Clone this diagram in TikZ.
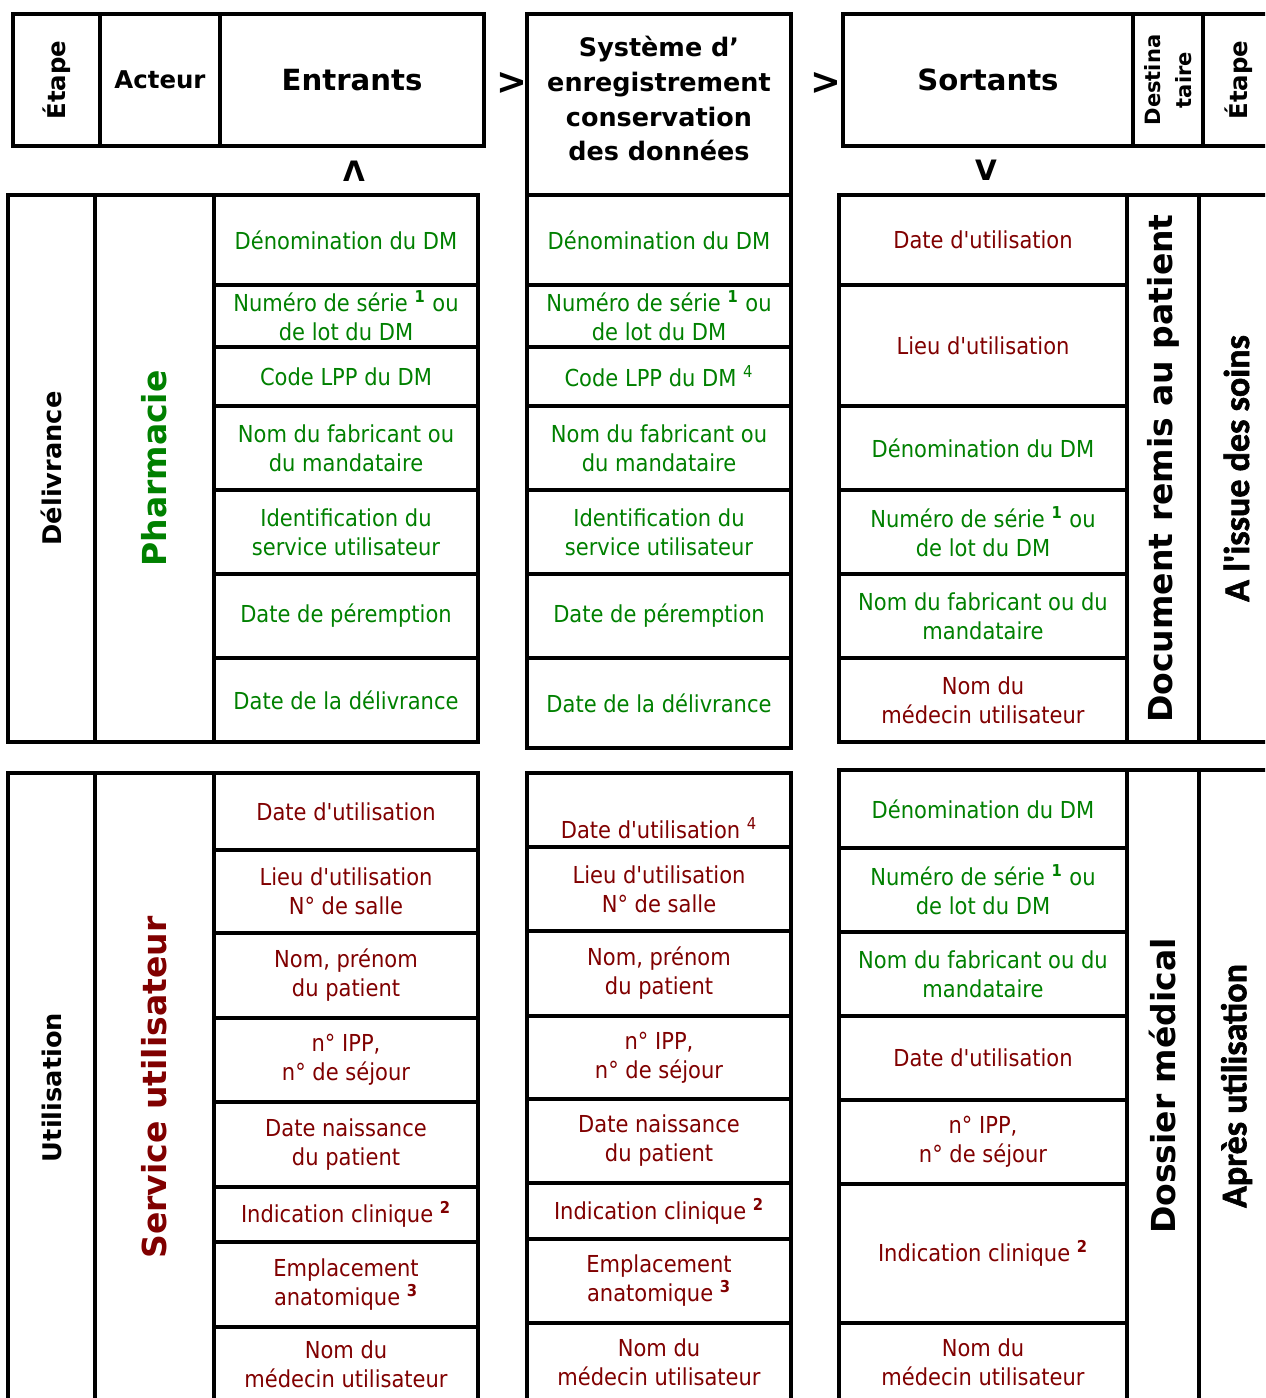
\documentclass[tikz,border=0pt]{standalone}
\usepackage{fontspec}
\setmainfont{DejaVu Sans}
\newfontfamily\cellfont{DejaVu Sans}[FakeStretch=0.9,Ligatures=TeXOff]
\newfontfamily\calfont{Carlito}[BoldFont=Carlito Bold,BoldFeatures={FakeBold=1.6},Ligatures=TeXOff]
\usepackage{tikz}
\definecolor{vert}{RGB}{0,128,0}
\definecolor{rouge}{RGB}{128,0,0}
\newcommand{\appel}[1]{\textsuperscript{\textbf{#1}}}
\newcommand{\appelfin}[1]{\textsuperscript{#1}}
% one cell: name, x0, y0, x1, y1, style, text
\newcommand{\bloc}[7]{%
  \draw[grille] (#2,#3) rectangle (#4,#5);
  \node[#6] (#1) at ({(#2+#4)/2},{(#3+#5)/2}) {#7};
}
% one column of cells: prefix, x0, x1, rows
\newcommand{\colonne}[4]{%
  \foreach \ya/\yb/\coul/\txt [count=\k] in {#4}{
    \bloc{#1\k}{#2}{\ya}{#3}{\yb}{case,text=\coul}{\txt}
  }
}
\tikzset{
  grille/.style={line width=2.3pt},
  case/.style={font=\cellfont\fontsize{13.3}{16.5}\selectfont, align=center, inner sep=0pt},
  entete/.style={font=\bfseries\fontsize{13.9}{16}\selectfont, align=center, inner sep=0pt},
  grandtitre/.style={font=\bfseries\fontsize{16.6}{20}\selectfont, inner sep=0pt},
  systeme/.style={font=\bfseries\fontsize{14.5}{19.9}\selectfont, align=center, inner sep=0pt, yshift=3.4pt},
  destina/.style={font=\bfseries\fontsize{12}{17.5}\selectfont, align=center, rotate=90, inner sep=0pt},
  etapecol/.style={font=\bfseries\fontsize{14.6}{17}\selectfont, rotate=90, inner sep=0pt},
  acteurcol/.style={font=\bfseries\fontsize{18.8}{22}\selectfont, rotate=90, inner sep=0pt},
  momentcol/.style={font=\calfont\bfseries\fontsize{20.5}{24}\selectfont, rotate=90, inner sep=0pt},
  fleche/.style={font=\bfseries\fontsize{16}{18}\selectfont, inner sep=0pt},
}
\begin{document}
\begin{tikzpicture}[x=0.02cm, y=-0.02cm]
  \useasboundingbox (0,0) rectangle (1265,1398);
  \clip (0,0) rectangle (1265,1398);

  % headers
  \bloc{etapeG}{13}{14}{100}{146}{entete,rotate=90}{Étape}
  \bloc{acteur}{100}{14}{220}{146}{entete}{Acteur}
  \bloc{entrants}{220}{14}{484}{146}{grandtitre}{Entrants}
  \bloc{systeme}{527}{14}{791}{195}{systeme}{Système d’\\enregistrement\\conservation\\des données}
  \bloc{sortants}{843}{14}{1133}{146}{grandtitre}{Sortants}
  \bloc{destinataire}{1133}{14}{1203}{146}{destina}{Destina\\taire}
  \bloc{etapeD}{1203}{14}{1274}{146}{entete,rotate=90}{Étape}

  \node[fleche,font=\bfseries\fontsize{21}{22}\selectfont] (versSysteme) at (512,83) {>};
  \node[fleche,font=\bfseries\fontsize{21}{22}\selectfont] (versSortants) at (826,83) {>};
  \node[fleche] (haut) at (354,171) {Λ};
  \node[fleche] (bas) at (986,170) {V};

  % first block: delivery
  \bloc{delivrance}{8}{195}{95}{742}{etapecol}{Délivrance}
  \bloc{pharmacie}{95}{195}{214}{742}{acteurcol,text=vert}{Pharmacie}
  \colonne{entD}{214}{478}{
    195/285/vert/{Dénomination du DM},
    285/347/vert/{Numéro de série \appel{1} ou\\de lot du DM},
    347/406/vert/{Code LPP du DM},
    406/490/vert/{Nom du fabricant ou\\du mandataire},
    490/574/vert/{Identification du\\service utilisateur},
    574/658/vert/{Date de péremption},
    658/742/vert/{Date de la délivrance}}
  \colonne{sysD}{527}{791}{
    195/285/vert/{Dénomination du DM},
    285/347/vert/{Numéro de série \appel{1} ou\\de lot du DM},
    347/406/vert/{Code LPP du DM \appelfin{4}},
    406/490/vert/{Nom du fabricant ou\\du mandataire},
    490/574/vert/{Identification du\\service utilisateur},
    574/658/vert/{Date de péremption},
    658/748/vert/{Date de la délivrance}}
  \colonne{sorD}{839}{1127}{
    195/285/rouge/{Date d'utilisation},
    285/406/rouge/{Lieu d'utilisation},
    406/490/vert/{Dénomination du DM},
    490/574/vert/{Numéro de série \appel{1} ou\\de lot du DM},
    574/658/vert/{Nom du fabricant ou du\\mandataire},
    658/742/rouge/{Nom du\\médecin utilisateur}}
  \bloc{document}{1127}{195}{1199}{742}{acteurcol}{Document remis au patient}
  \bloc{issue}{1199}{195}{1274}{742}{momentcol}{A l'issue des soins}

  % second block: use
  \bloc{utilisation}{8}{773}{95}{1402}{etapecol}{Utilisation}
  \bloc{service}{95}{773}{214}{1402}{acteurcol,text=rouge}{Service utilisateur}
  \colonne{entU}{214}{478}{
    773/850/rouge/{Date d'utilisation},
    850/933/rouge/{Lieu d'utilisation\\N° de salle},
    933/1018/rouge/{Nom, prénom\\du patient},
    1018/1102/rouge/{n° IPP,\\n° de séjour},
    1102/1187/rouge/{Date naissance\\du patient},
    1187/1242/rouge/{Indication clinique \appel{2}},
    1242/1327/rouge/{Emplacement\\anatomique \appel{3}},
    1327/1402/rouge/{Nom du\\médecin utilisateur}}
  \bloc{sysU0}{527}{773}{791}{847}{case,text=rouge,yshift=-10.5pt}{Date d'utilisation \appelfin{4}}
  \colonne{sysU}{527}{791}{
    847/931/rouge/{Lieu d'utilisation\\N° de salle},
    931/1016/rouge/{Nom, prénom\\du patient},
    1016/1099/rouge/{n° IPP,\\n° de séjour},
    1099/1183/rouge/{Date naissance\\du patient},
    1183/1239/rouge/{Indication clinique \appel{2}},
    1239/1323/rouge/{Emplacement\\anatomique \appel{3}},
    1323/1402/rouge/{Nom du\\médecin utilisateur}}
  \colonne{sorU}{839}{1127}{
    770/848/vert/{Dénomination du DM},
    848/932/vert/{Numéro de série \appel{1} ou\\de lot du DM},
    932/1016/vert/{Nom du fabricant ou du\\mandataire},
    1016/1100/rouge/{Date d'utilisation},
    1100/1184/rouge/{n° IPP,\\n° de séjour},
    1184/1323/rouge/{Indication clinique \appel{2}},
    1323/1402/rouge/{Nom du\\médecin utilisateur}}
  \bloc{dossier}{1127}{770}{1199}{1402}{acteurcol}{Dossier médical}
  \bloc{apres}{1199}{770}{1274}{1402}{momentcol}{Après utilisation}

\end{tikzpicture}
\end{document}
